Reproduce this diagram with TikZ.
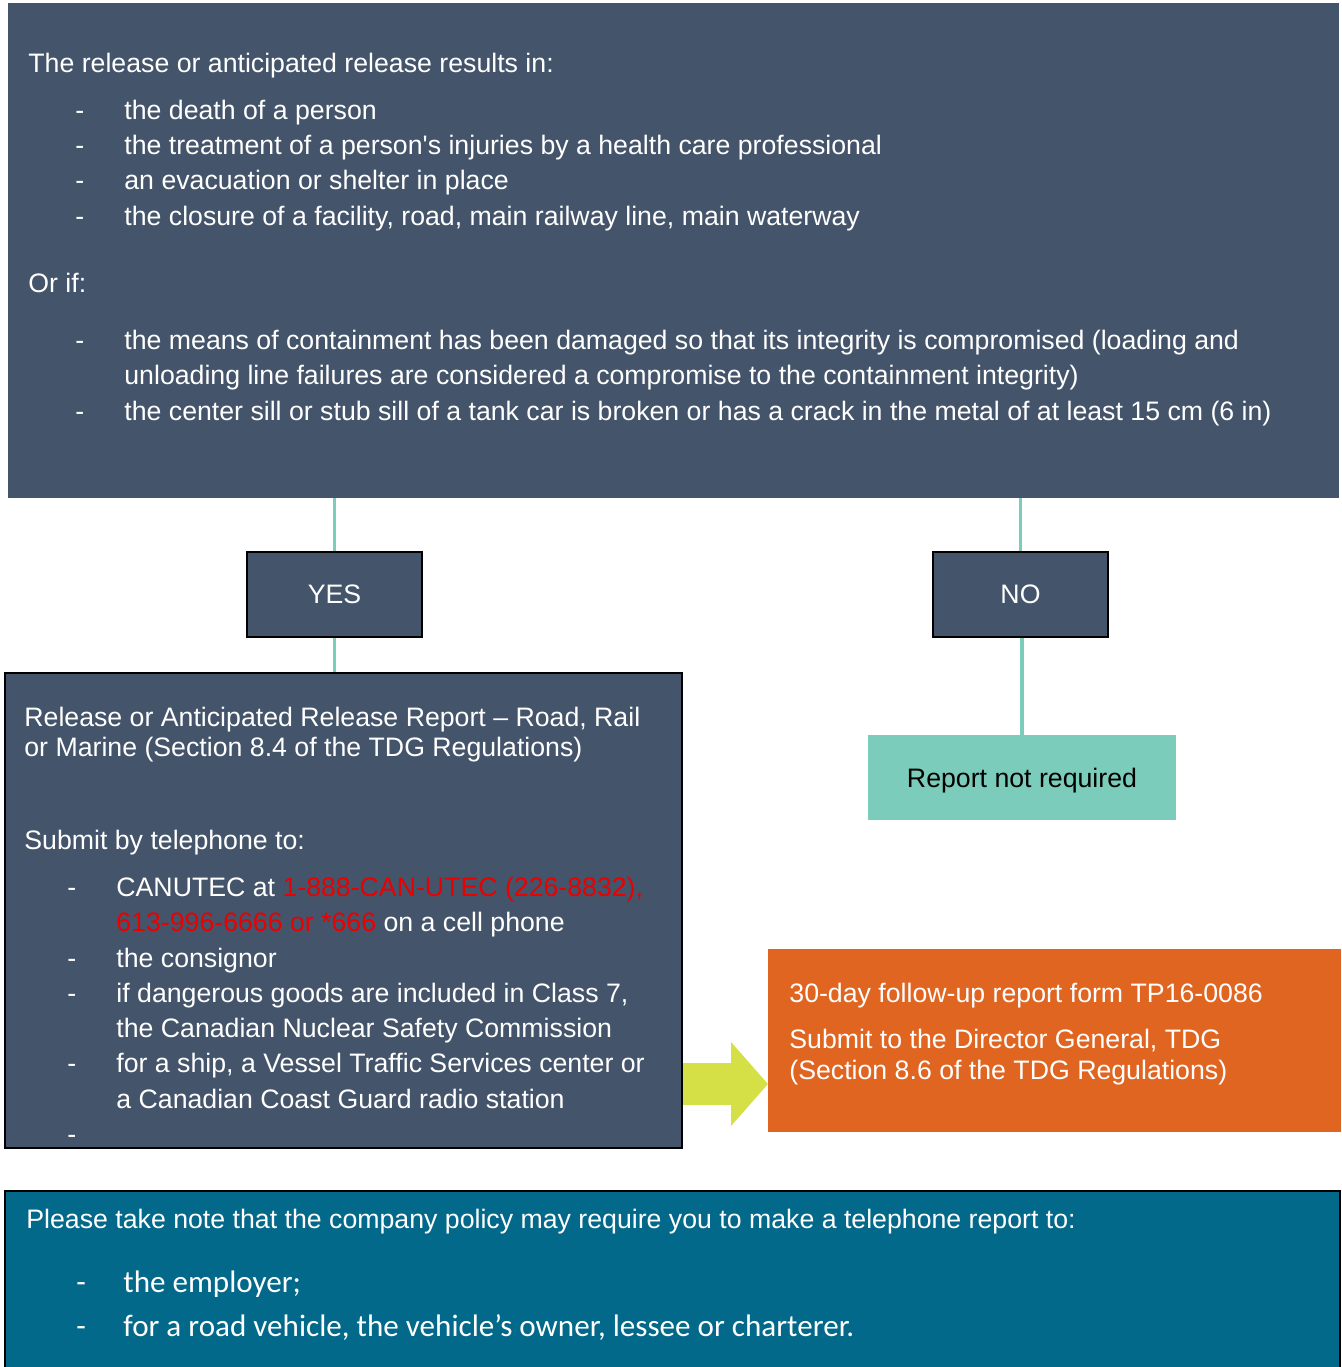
\documentclass[tikz,border=0pt]{standalone}
\usepackage{fontspec}
\setmainfont{Liberation Sans}
\newfontfamily\carlito{Carlito}
\usetikzlibrary{arrows.meta}
\definecolor{slate}{RGB}{68,84,106}
\definecolor{mint}{RGB}{123,204,187}
\definecolor{rust}{RGB}{224,101,33}
\definecolor{lime}{RGB}{212,224,70}
\definecolor{petrol}{RGB}{3,105,138}
\definecolor{telred}{RGB}{235,0,0}
\newcommand{\mainsz}{\fontsize{13.35}{16}\selectfont}
\newcommand{\itm}[1][24.5pt]{\makebox[#1][l]{-}}
\tikzstyle{panel} = [rectangle, inner sep=0pt, fill=slate]
\tikzstyle{answer} = [rectangle, draw=black, line width=1pt, fill=slate, text=white, font=\mainsz, minimum width=87.5pt, minimum height=42.5pt]
\tikzstyle{txt} = [anchor=base west, inner sep=0pt, text=white, font=\mainsz]
\tikzstyle{link} = [draw=mint, line width=1.75pt]
\tikzstyle{bigarrow} = [draw=lime, line width=21pt, -{Triangle[length=18.5pt,width=41pt]}]

\begin{document}
\begin{tikzpicture}[x=0.5pt,y=-0.5pt]
        \useasboundingbox (0,0) rectangle (1341,1367);
        \clip (0,0) rectangle (1341,1367);
        % boxes
        \node [panel, minimum width=665.5pt, minimum height=247.5pt] at (673.5,250.5) (top) {};
        \node [answer] at (334.5,594.5) (yes) {YES};
        \node [answer] at (1020.5,594.5) (no) {NO};
        \node [panel, draw=black, line width=1pt, minimum width=338.5pt, minimum height=237.5pt] at (343.5,910.5) (rep) {};
        \node [rectangle, fill=mint, font=\mainsz, text depth=0pt, minimum width=154pt, minimum height=42.5pt] at (1022,777.5) (notreq) {Report not required};
        \node [rectangle, fill=rust, minimum width=286.5pt, minimum height=91.5pt] at (1054.5,1040.5) (follow) {};
        \node [rectangle, draw=black, line width=1pt, fill=petrol, minimum width=667.5pt, minimum height=94.5pt] at (672.5,1285.5) (note) {};
        \coordinate (tip) at (768,1084);
        % connectors
        \draw [link] (top.south -| yes.north) -- (yes.north);
        \draw [link] (yes.south) -- (yes.south |- rep.north);
        \draw [link] (top.south -| no.north) -- (no.north);
        \draw [link] (no.south -| notreq.north) -- (notreq.north);
        \draw [bigarrow] (rep.east |- tip) -- (tip);
        % top text
        \node [txt] at (28,72) (t0) {The release or anticipated release results in:};
        \node [txt] at (75,119) (t1) {\itm the death of a person};
        \node [txt] at (75,154) (t2) {\itm the treatment of a person\textquotesingle s injuries by a health care professional};
        \node [txt] at (75,189) (t3) {\itm an evacuation or shelter in place};
        \node [txt] at (75,225) (t4) {\itm the closure of a facility, road, main railway line, main waterway};
        \node [txt] at (28,292) (t5) {Or if:};
        \node [txt] at (75,349) (t6) {\itm the means of containment has been damaged so that its integrity is compromised (loading and};
        \node [txt] at (124,384) (t7) {unloading line failures are considered a compromise to the containment integrity)};
        \node [txt] at (75,420) (t8) {\itm the center sill or stub sill of a tank car is broken or has a crack in the metal of at least 15 cm (6 in)};
        % report text
        \node [txt] at (24,726) (r0) {Release or Anticipated Release Report – Road, Rail};
        \node [txt] at (24,756) (r1) {or Marine (Section 8.4 of the TDG Regulations)};
        \node [txt] at (24,849) (r2) {Submit by telephone to:};
        \node [txt] at (67,896) (r3) {\itm CANUTEC at \textcolor{telred}{1-888-CAN-UTEC (226-8832),}};
        \node [txt] at (116,931) (r4) {\textcolor{telred}{613-996-6666 or *666} on a cell phone};
        \node [txt] at (67,967) (r5) {\itm the consignor};
        \node [txt] at (67,1002) (r6) {\itm if dangerous goods are included in Class 7,};
        \node [txt] at (116,1037) (r7) {the Canadian Nuclear Safety Commission};
        \node [txt] at (67,1072) (r8) {\itm for a ship, a Vessel Traffic Services center or};
        \node [txt] at (116,1108) (r9) {a Canadian Coast Guard radio station};
        \node [txt] at (67,1143) (r10) {-};
        % follow-up text
        \node [txt] at (789,1002) (f0) {30-day follow-up report form TP16-0086};
        \node [txt] at (789,1048) (f1) {Submit to the Director General, TDG};
        \node [txt] at (789,1079) (f2) {(Section 8.6 of the TDG Regulations)};
        % note text
        \node [txt] at (26,1228) (n0) {Please take note that the company policy may require you to make a telephone report to:};
        \node [txt, font=\carlito\fontsize{15.55}{18}\selectfont] at (76,1292) (n1) {\itm[23.5pt]the employer;};
        \node [txt, font=\carlito\fontsize{15.55}{18}\selectfont] at (76,1336) (n2) {\itm[23.5pt]for a road vehicle, the vehicle’s owner, lessee or charterer.};
\end{tikzpicture}
\end{document}
